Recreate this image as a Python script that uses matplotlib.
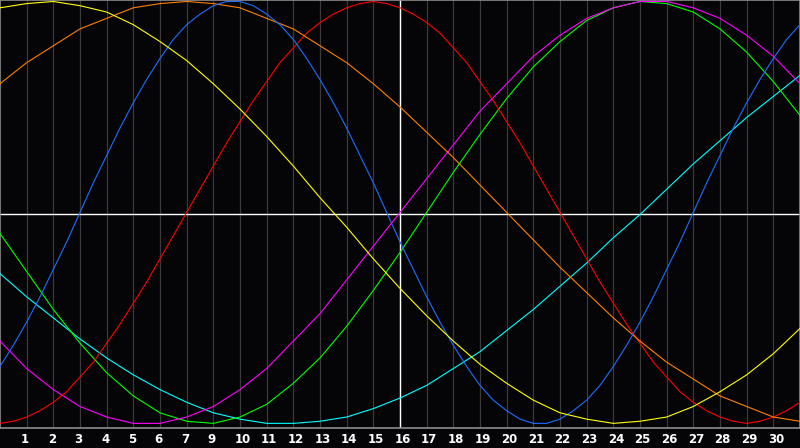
import numpy as np
import matplotlib.pyplot as plt

# slot positions across the chart (0 .. 30), half slots for the fast cycles
slots = np.arange(31)
half_slots = np.arange(61) / 2

# day labels under each grid line (the original skips 8)
day_labels = ["1", "2", "3", "4", "5", "6", "7", "9", "10", "11", "12", "13", "14", "15",
              "16", "17", "18", "19", "20", "21", "22", "23", "24", "25", "26", "27",
              "28", "29", "30"]
today_slot = 15

# curve values in percent
physical = [-73, -63, -52, -40, -27, -14, 0, 14, 27, 40, 52, 63, 73, 82, 89, 94, 98, 100,
            100, 98, 94, 89, 82, 73, 63, 52, 40, 27, 14, 0, -14, -27, -40, -52, -63, -73,
            -82, -89, -94, -98, -100, -100, -98, -94, -89, -82, -73, -63, -52, -40, -27,
            -14, 0, 14, 27, 40, 52, 63, 73, 82, 89]
emotional = [-100, -99, -97, -94, -90, -85, -78, -71, -62, -53, -43, -33, -22, -11, 0, 11,
             22, 33, 43, 53, 62, 71, 78, 85, 90, 94, 97, 99, 100, 99, 97, 94, 90, 85, 78,
             71, 62, 53, 43, 33, 22, 11, 0, -11, -22, -33, -43, -53, -62, -71, -78, -85,
             -90, -94, -97, -99, -100, -99, -97, -94, -90]
intellectual = [-10, -28, -46, -62, -76, -87, -95, -99, -100, -97, -91, -81, -69, -54, -37,
                -19, 0, 19, 37, 54, 69, 81, 91, 97, 100, 99, 95, 87, 76, 62, 46]
intuitive = [-61, -74, -84, -92, -97, -100, -100, -97, -92, -84, -74, -61, -48, -32, -16, 0,
             16, 32, 48, 61, 74, 84, 92, 97, 100, 100, 97, 92, 84, 74, 61]
aesthetic = [97, 99, 100, 98, 95, 89, 81, 72, 61, 49, 36, 22, 7, -7, -22, -36, -49, -61, -72,
             -81, -89, -95, -98, -100, -99, -97, -92, -85, -77, -67, -55]
awareness = [61, 71, 79, 87, 92, 97, 99, 100, 99, 97, 92, 87, 79, 71, 61, 50, 38, 26, 13, 0,
             -13, -26, -38, -50, -61, -71, -79, -87, -92, -97, -99]
spiritual = [-29, -40, -50, -60, -69, -77, -84, -90, -95, -98, -100, -100, -99, -97, -93, -88,
             -82, -74, -66, -56, -46, -35, -24, -12, -1, 11, 23, 34, 45, 55, 65]

bg = "#050508"
fig = plt.figure(figsize=(8, 4.48), dpi=100, facecolor=bg)
ax = fig.add_axes([0, 20 / 448, 1, 428 / 448], facecolor=bg)

ax.set_xlim(0, 30)
ax.set_ylim(-102.2, 100.7)

# day grid
for s in range(1, 30):
    ax.axvline(s, color="#3a3a3a", lw=0.9, zorder=1)

ymid = sum(ax.get_ylim()) / 2
ax.axhline(ymid, color="white", lw=1.0, zorder=2)
ax.axvline(today_slot, color="white", lw=1.0, zorder=2)

ax.plot(slots, spiritual, color="#00ffff", lw=0.8, zorder=3)
ax.plot(slots, intellectual, color="#00ff00", lw=0.8, zorder=3)
ax.plot(slots, intuitive, color="#ff00ff", lw=0.8, zorder=3)
ax.plot(half_slots, emotional, color="#ff0000", lw=0.8, zorder=3)
ax.plot(slots, awareness, color="#ff8000", lw=0.8, zorder=3)
ax.plot(half_slots, physical, color="#1e6eff", lw=0.8, zorder=3)
ax.plot(slots, aesthetic, color="#ffff00", lw=0.8, zorder=3)

for sp in ax.spines.values():
    sp.set_color("#8c8c8c")
    sp.set_linewidth(1.2)
ax.set_xticks([])
ax.set_yticks([])

# labels in the strip under the chart
for i, lab in enumerate(day_labels):
    xf = (i + 1) / 30 - 5.5 / 800
    fig.text(xf, 9 / 448, lab, color="white", fontsize=8.5, fontweight="bold",
             family="DejaVu Sans", ha="left", va="center")

fig.savefig("out.png", dpi=100, facecolor=bg)
